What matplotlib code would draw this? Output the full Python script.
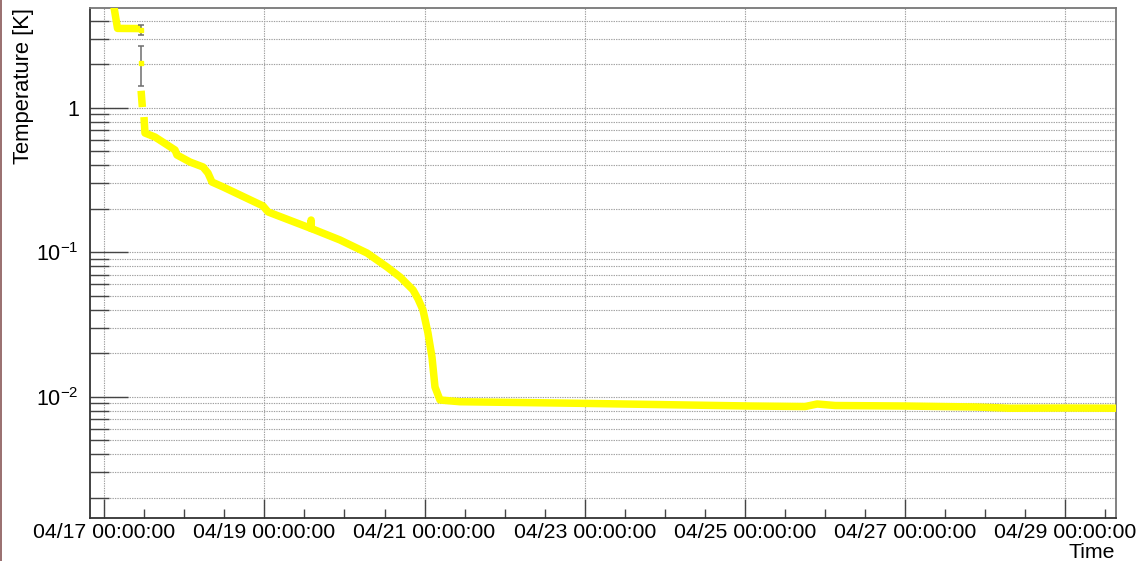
import matplotlib
matplotlib.use("Agg")
import matplotlib.pyplot as plt
import matplotlib.dates as mdates
import matplotlib.ticker as mticker
from matplotlib.patches import Rectangle
import numpy as np
from datetime import datetime

plt.rcParams["font.family"] = ["Liberation Sans", "DejaVu Sans"]
plt.rcParams["mathtext.fontset"] = "custom"
plt.rcParams["mathtext.rm"] = "Liberation Sans"
plt.rcParams["mathtext.it"] = "Liberation Sans"

YEAR = 2019

# cool-down down to the first plateau
seg_a_time = ["04-17 02:19", "04-17 03:58", "04-17 11:00"]
seg_a_temp = [6.0, 3.54, 3.53]

# short piece just below 1 K
seg_b_time = ["04-17 11:02", "04-17 11:25"]
seg_b_temp = [1.31, 1.01]

# main cool-down and base-temperature plateau
seg_c_time = ["04-17 11:54", "04-17 12:12", "04-17 15:12", "04-17 21:12", "04-17 21:47",
              "04-18 01:41", "04-18 05:35", "04-18 07:05", "04-18 08:17", "04-18 11:35",
              "04-18 23:35", "04-19 01:05", "04-19 13:40", "04-19 13:58", "04-19 14:00",
              "04-19 14:02", "04-19 22:40", "04-20 06:46", "04-20 12:45", "04-20 16:39",
              "04-20 20:33", "04-20 22:03", "04-20 23:32", "04-21 01:02", "04-21 02:14",
              "04-21 03:08", "04-21 04:38", "04-21 10:36", "04-22 22:36", "04-25 01:36",
              "04-25 18:06", "04-25 21:42", "04-26 03:06", "04-26 23:42", "04-27 21:00",
              "04-28 07:30", "04-29 00:00", "04-29 16:00"]
seg_c_temp = [0.862, 0.668, 0.627, 0.510, 0.471,
              0.421, 0.389, 0.353, 0.306, 0.283,
              0.209, 0.190, 0.147, 0.146, 0.167,
              0.146, 0.1215, 0.0987, 0.0790, 0.0674,
              0.0548, 0.0475, 0.0398, 0.0276, 0.0188,
              0.01167, 0.00949, 0.00923, 0.0090, 0.00862,
              0.00855, 0.0089, 0.00869, 0.00862, 0.00849,
              0.00832, 0.00835, 0.00832]

# points with uncertainties
err_time = ["04-17 11:00", "04-17 11:00"]
err_temp = [3.45, 2.03]
err_lo = [0.26, 0.61]
err_hi = [0.28, 0.64]

x_start = "04-16 19:43"
x_end = "04-29 15:17"
y_min, y_max = 1.447e-3, 4.90
major_days = [17, 19, 21, 23, 25, 27, 29]


def to_dt(items):
    return [datetime.strptime(f"{YEAR}-{s}", "%Y-%m-%d %H:%M") for s in items]


W, H, DPI = 1140, 561, 100
fig = plt.figure(figsize=(W / DPI, H / DPI), dpi=DPI)
ax = fig.add_axes([90 / W, 1 - 518 / H, (1116 - 90) / W, (518 - 8) / H])

yellow = "#ffff00"
line_kw = dict(color=yellow, lw=5.4, solid_joinstyle="round", solid_capstyle="butt", zorder=3)
ax.plot(to_dt(seg_a_time), seg_a_temp, **line_kw)
ax.plot(to_dt(seg_b_time), seg_b_temp, **line_kw)
ax.plot(to_dt(seg_c_time), seg_c_temp, **line_kw)

ax.errorbar(to_dt(err_time), err_temp, yerr=[err_lo, err_hi], fmt="s", ms=3.5,
            mfc=yellow, mec=yellow, ecolor="#6e6e6e", elinewidth=1.1,
            capsize=2.2, capthick=1.1, zorder=4)

ax.set_yscale("log")
ax.set_ylim(y_min, y_max)
ax.set_xlim(to_dt([x_start])[0], to_dt([x_end])[0])

ax.yaxis.set_major_locator(mticker.FixedLocator([1e-2, 1e-1, 1.0]))
ax.yaxis.set_major_formatter(mticker.FixedFormatter([r"$10^{-2}$", r"$10^{-1}$", "1"]))
ax.yaxis.set_minor_locator(mticker.LogLocator(base=10, subs=np.arange(2, 10)))
ax.yaxis.set_minor_formatter(mticker.NullFormatter())

ax.xaxis.set_major_locator(mdates.DayLocator(bymonthday=major_days))
ax.xaxis.set_major_formatter(mdates.DateFormatter("%m/%d %H:%M:%S"))
ax.xaxis.set_minor_locator(mdates.HourLocator(byhour=[0, 12]))

tick_col = "#444444"
ax.tick_params(axis="y", which="major", direction="in", length=27.5, width=1.0,
               color=tick_col, labelsize=15.5, pad=8, right=False)
ax.tick_params(axis="y", which="minor", direction="in", length=13.5, width=1.0,
               color=tick_col, right=False)
ax.tick_params(axis="x", which="major", direction="in", length=13.5, width=1.0,
               color=tick_col, labelsize=15.3, pad=3.5, top=False)
ax.tick_params(axis="x", which="minor", direction="in", length=6.5, width=1.0,
               color=tick_col, top=False)

grid_kw = dict(color="#a0a0a0", lw=0.8, linestyle=(0, (1.2, 1.0)))
ax.grid(True, axis="y", which="both", **grid_kw)
ax.grid(True, axis="x", which="major", **grid_kw)
ax.set_axisbelow(True)

for side in ("left", "bottom"):
    ax.spines[side].set_color("#333333")
    ax.spines[side].set_linewidth(1.3)
for side in ("top", "right"):
    ax.spines[side].set_color("#777777")
    ax.spines[side].set_linewidth(1.3)

fig.text(24 / W, 1 - 8 / H, "Temperature [K]", rotation=90, ha="center", va="top", fontsize=15.8)
fig.text(1115 / W, 1 - 552 / H, "Time", ha="right", va="center", fontsize=15.3)

# thin strip along the left border
fig.patches.append(Rectangle((0, 0), 2.0 / W, 1, transform=fig.transFigure,
                             facecolor="#9b7272", edgecolor="none", zorder=0))

fig.savefig("out.png", dpi=DPI)
